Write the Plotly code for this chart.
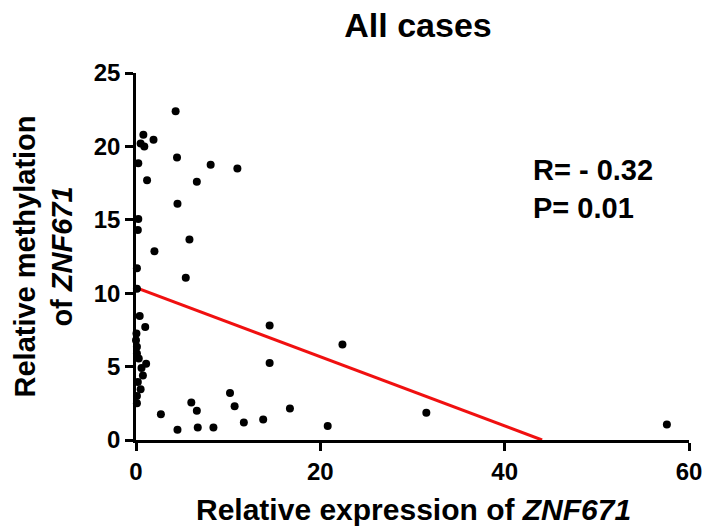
import plotly.graph_objects as go

# Relative expression (x) and relative methylation (y) of ZNF671
expression = [4.3, 0.8, 1.9, 0.5, 0.9, 4.45, 8.1, 11.0, 0.25, 1.2, 6.6, 4.5,
              0.25, 0.2, 5.8, 2.0, 0.1, 5.4, 0.1, 0.4, 1.0, 0.05, 0.0, 0.1,
              0.1, 0.3, 1.1, 0.6, 0.75, 0.2, 0.5, 0.1, 0.1, 6.0, 6.6, 2.7,
              4.5, 6.7, 8.4, 10.2, 10.7, 11.7, 14.5, 14.5, 22.4, 16.7, 13.8,
              20.8, 31.5, 57.6]
methylation = [22.4, 20.8, 20.45, 20.2, 20.0, 19.25, 18.75, 18.5, 18.85, 17.7,
               17.6, 16.1, 15.05, 14.3, 13.65, 12.85, 11.7, 11.05, 10.3, 8.45,
               7.7, 7.25, 6.8, 6.35, 5.9, 5.55, 5.2, 4.9, 4.4, 3.95, 3.45, 3.0,
               2.5, 2.55, 2.0, 1.75, 0.7, 0.85, 0.85, 3.2, 2.3, 1.2, 7.8, 5.25,
               6.5, 2.15, 1.4, 0.95, 1.85, 1.05]

# Linear regression line (y = intercept + slope * x)
fit_intercept = 10.38
fit_slope = -0.2356

x_ticks = [0, 20, 40, 60]
y_ticks = [0, 5, 10, 15, 20, 25]

FONT = "Liberation Sans, Arial, sans-serif"

fig = go.Figure()
x_end = -fit_intercept / fit_slope
fig.add_trace(go.Scatter(
    x=[0, x_end], y=[fit_intercept, fit_intercept + fit_slope * x_end],
    mode="lines", line=dict(color="#f01010", width=3),
    hoverinfo="skip", showlegend=False, cliponaxis=False))
fig.add_trace(go.Scatter(
    x=expression, y=methylation, mode="markers",
    marker=dict(color="black", size=8),
    showlegend=False, cliponaxis=False))

axis_common = dict(
    showline=True, linecolor="black", linewidth=2.5,
    ticks="outside", ticklen=8, tickwidth=2.5, tickcolor="black",
    showgrid=False, zeroline=False,
    tickfont=dict(family=FONT, size=24, color="black", weight="bold"),
)
fig.update_xaxes(range=[0, 60], tickvals=x_ticks, **axis_common)
fig.update_yaxes(range=[0, 25], tickvals=y_ticks, **axis_common)

fig.update_layout(
    width=706, height=532,
    margin=dict(l=136, r=17, t=73, b=92, autoexpand=False),
    plot_bgcolor="white", paper_bgcolor="white",
    title=dict(text="<b>All cases</b>", x=418 / 706, xref="container",
               xanchor="center", y=1 - 25 / 532, yref="container",
               yanchor="middle",
               font=dict(family=FONT, size=34, color="black")),
    annotations=[
        dict(text="<b>Relative expression of <i>ZNF671</i></b>",
             xref="paper", yref="paper", x=(413 - 136) / 553,
             y=(440 - 509) / 367,
             xanchor="center", yanchor="middle", showarrow=False,
             font=dict(family=FONT, size=30, color="black")),
        dict(text="<b>Relative methylation<br>of <i>ZNF671</i></b>",
             xref="paper", yref="paper", x=(43 - 136) / 553, y=0.5,
             xanchor="center", yanchor="middle", textangle=-90,
             showarrow=False,
             font=dict(family=FONT, size=29, color="black")),
        dict(text="<b>R= - 0.32<br>P= 0.01</b>",
             xref="paper", yref="paper", x=(531 - 136) / 553,
             y=(440 - 189) / 367, xanchor="left", yanchor="middle",
             align="left", showarrow=False,
             font=dict(family=FONT, size=29, color="black")),
    ],
)

fig.write_html(
    "out.html",
    config={"displayModeBar": False},
    post_script="document.body.style.margin='0';"
                "document.body.style.padding='0';"
                "document.body.style.overflow='hidden';",
)
